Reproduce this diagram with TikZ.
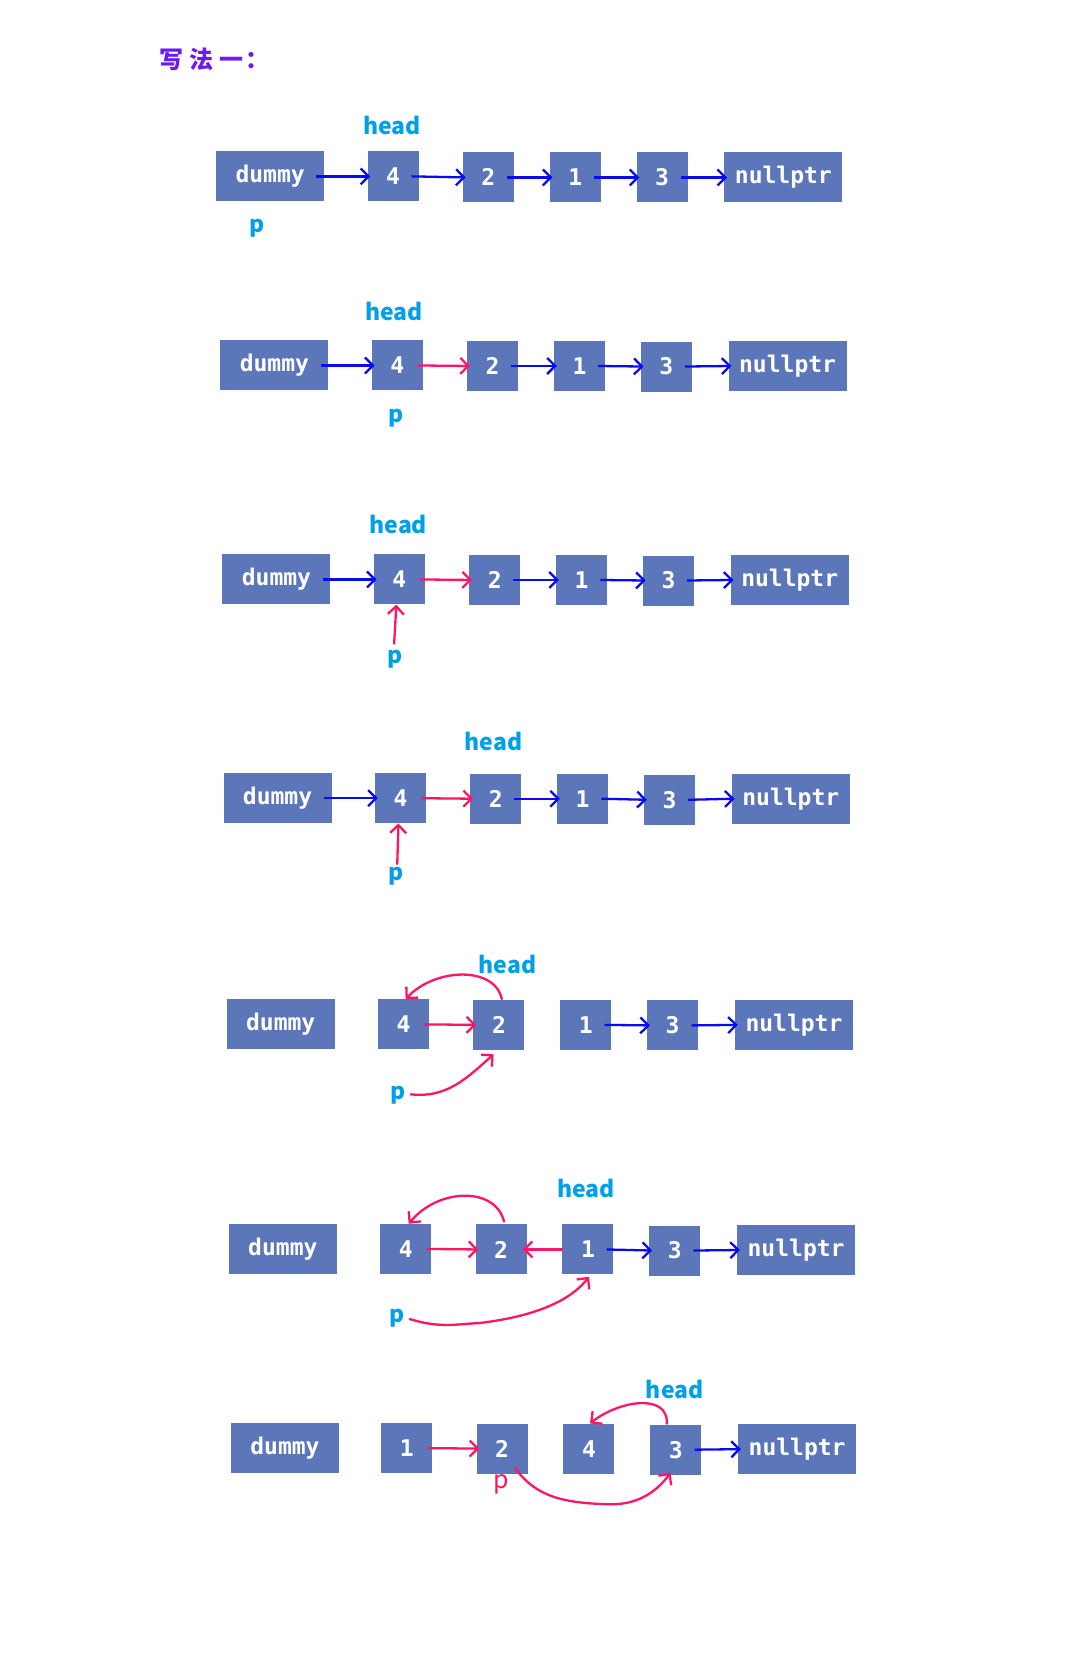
\documentclass[tikz,border=0pt]{standalone}
\usepackage{fontspec}
\usetikzlibrary{arrows.meta,calc}
\newfontfamily\boxfont{DejaVu Sans Mono}
\newfontfamily\cjk{Noto Sans CJK SC}
\definecolor{boxc}{HTML}{5B77BA}
\definecolor{blu}{HTML}{0A0AF0}
\definecolor{rd}{HTML}{FF1466}
\definecolor{cy}{HTML}{00A0E9}
\definecolor{vio}{HTML}{6B1CF5}
\begin{document}
\begin{tikzpicture}[x=1.0595pt,y=-1.0595pt,
  box/.style={fill=boxc,text=white,font=\boxfont\bfseries\fontsize{23}{23}\selectfont,minimum height=50pt,inner sep=0pt},
  sm/.style={box,minimum width=51pt},
  dm/.style={box,minimum width=108pt},
  nl/.style={box,minimum width=118pt},
  lbl/.style={text=cy,font=\cjk\bfseries\fontsize{23}{23}\selectfont,inner sep=1pt},
  rlbl/.style={lbl,text=rd,font=\cjk\fontsize{25}{25}\selectfont},
  ba/.style={draw=blu,line width=2.3pt,-{Straight Barb[length=8pt,width=16pt]}},
  ra/.style={draw=rd,line width=2.3pt,-{Straight Barb[length=8pt,width=16pt]}}]
\useasboundingbox (0,0) rectangle (1025,1568);
\node[anchor=west,text=vio,font=\cjk\bfseries\fontsize{24}{24}\selectfont,inner sep=0pt] (title) at (150,56) {写\hspace{6pt}法\hspace{6pt}一\hspace{2pt}：};

% Row 1
\node[dm] (r1dm) at (255,166.5) {dummy};
\node[sm] (r1v4) at (371,166.5) {4};
\node[sm] (r1v2) at (461,167.5) {2};
\node[sm] (r1v1) at (543,167.5) {1};
\node[sm] (r1v3) at (625,167.5) {3};
\node[nl] (r1nl) at (739.5,167.5) {nullptr};
\node[lbl] (r1hd) at (370,118) {head};
\node[lbl] (r1p) at (243,215) {p};
\draw[ba] ([xshift=-8pt]r1dm.east) -- ([xshift=3pt]r1v4.west);
\draw[ba] ([xshift=-7pt]r1v4.east) -- ([xshift=3pt]r1v2.west);
\draw[ba] ([xshift=-7pt]r1v2.east) -- ([xshift=3pt]r1v1.west);
\draw[ba] ([xshift=-7pt]r1v1.east) -- ([xshift=3pt]r1v3.west);
\draw[ba] ([xshift=-7pt]r1v3.east) -- ([xshift=3pt]r1nl.west);

% Row 2
\node[dm] (r2dm) at (259,345) {dummy};
\node[sm] (r2v4) at (375,345) {4};
\node[sm] (r2v2) at (465,345.5) {2};
\node[sm] (r2v1) at (547,345.5) {1};
\node[sm] (r2v3) at (629,346) {3};
\node[nl] (r2nl) at (743.5,345.5) {nullptr};
\node[lbl] (r2hd) at (372,294) {head};
\node[lbl] (r2p) at (374,395) {p};
\draw[ba] ([xshift=-8pt]r2dm.east) -- ([xshift=3pt]r2v4.west);
\draw[ra] ([xshift=-5pt]r2v4.east) -- ([xshift=3pt]r2v2.west);
\draw[ba] ([xshift=-7pt]r2v2.east) -- ([xshift=3pt]r2v1.west);
\draw[ba] ([xshift=-7pt]r2v1.east) -- ([xshift=3pt]r2v3.west);
\draw[ba] ([xshift=-7pt]r2v3.east) -- ([xshift=3pt]r2nl.west);

% Row 3
\node[dm] (r3dm) at (261,547) {dummy};
\node[sm] (r3v4) at (377,547) {4};
\node[sm] (r3v2) at (467,547.5) {2};
\node[sm] (r3v1) at (549,547.5) {1};
\node[sm] (r3v3) at (631,548) {3};
\node[nl] (r3nl) at (745.5,547.5) {nullptr};
\node[lbl] (r3hd) at (376,495) {head};
\node[lbl] (r3p) at (373,622) {p};
\draw[ba] ([xshift=-8pt]r3dm.east) -- ([xshift=3pt]r3v4.west);
\draw[ra] ([xshift=-5pt]r3v4.east) -- ([xshift=3pt]r3v2.west);
\draw[ba] ([xshift=-7pt]r3v2.east) -- ([xshift=3pt]r3v1.west);
\draw[ba] ([xshift=-7pt]r3v1.east) -- ([xshift=3pt]r3v3.west);
\draw[ba] ([xshift=-7pt]r3v3.east) -- ([xshift=3pt]r3nl.west);
\draw[ra] ([shift={(-1,-4)}]r3p.north) -- ([xshift=-3pt]r3v4.south);

% Row 4
\node[dm] (r4dm) at (262,753.5) {dummy};
\node[sm] (r4v4) at (378,753.5) {4};
\node[sm] (r4v2) at (468,754) {2};
\node[sm] (r4v1) at (550,754) {1};
\node[sm] (r4v3) at (632,755) {3};
\node[nl] (r4nl) at (746.5,754) {nullptr};
\node[lbl] (r4hd) at (466,700) {head};
\node[lbl] (r4p) at (374,827) {p};
\draw[ba] ([xshift=-8pt]r4dm.east) -- ([xshift=3pt]r4v4.west);
\draw[ra] ([xshift=-5pt]r4v4.east) -- ([xshift=3pt]r4v2.west);
\draw[ba] ([xshift=-7pt]r4v2.east) -- ([xshift=3pt]r4v1.west);
\draw[ba] ([xshift=-7pt]r4v1.east) -- ([xshift=3pt]r4v3.west);
\draw[ba] ([xshift=-7pt]r4v3.east) -- ([xshift=3pt]r4nl.west);
\draw[ra] ([shift={(1,-1)}]r4p.north) -- ([xshift=-2pt]r4v4.south);

% Row 5
\node[dm] (r5dm) at (265,967) {dummy};
\node[sm] (r5v4) at (381,967) {4};
\node[sm] (r5v2) at (471,967.5) {2};
\node[sm] (r5v1) at (553,967.5) {1};
\node[sm] (r5v3) at (635,968) {3};
\node[nl] (r5nl) at (749.5,967.5) {nullptr};
\node[lbl] (r5hd) at (479,910) {head};
\node[lbl] (r5p) at (376,1034) {p};
\draw[ra] ([xshift=-5pt]r5v4.east) -- ([xshift=3pt]r5v2.west);
\draw[ba] ([xshift=-7pt]r5v1.east) -- ([xshift=3pt]r5v3.west);
\draw[ba] ([xshift=-7pt]r5v3.east) -- ([xshift=3pt]r5nl.west);
\draw[ra] ([xshift=3pt]r5v2.north) .. controls +(-6,-32) and +(28,-30) .. ([xshift=2pt]r5v4.north);
\draw[ra] ([shift={(3,-1)}]r5p.east) .. controls +(35,4) and +(-25,22) .. ([shift={(-5,4)}]r5v2.south);

% Row 6
\node[dm] (r6dm) at (267,1179) {dummy};
\node[sm] (r6v4) at (383,1179) {4};
\node[sm] (r6v2) at (473,1179.5) {2};
\node[sm] (r6v1) at (555,1179.5) {1};
\node[sm] (r6v3) at (637,1180.5) {3};
\node[nl] (r6nl) at (751.5,1180) {nullptr};
\node[lbl] (r6hd) at (553,1122) {head};
\node[lbl] (r6p) at (375,1244) {p};
\draw[ra] ([xshift=-5pt]r6v4.east) -- ([xshift=3pt]r6v2.west);
\draw[ra] ([xshift=1pt]r6v1.west) -- ([xshift=-4pt]r6v2.east);
\draw[ba] ([xshift=-7pt]r6v1.east) -- ([xshift=3pt]r6v3.west);
\draw[ba] ([xshift=-7pt]r6v3.east) -- ([xshift=3pt]r6nl.west);
\draw[ra] ([shift={(3,-2)}]r6v2.north) .. controls +(-8,-34) and +(28,-34) .. ([xshift=3pt]r6v4.north);
\draw[ra] ([shift={(3,1)}]r6p.east) .. controls (415,1254) and (430,1250) .. (452,1249)
  .. controls (495,1244) and (535,1232) .. ([shift={(1,2)}]r6v1.south);

% Row 7
\node[dm] (r7dm) at (269,1367) {dummy};
\node[sm] (r7v1) at (384,1367) {1};
\node[sm] (r7v2) at (474,1367.5) {2};
\node[sm] (r7v4) at (556,1367.5) {4};
\node[sm] (r7v3) at (638,1368.5) {3};
\node[nl] (r7nl) at (752.5,1368) {nullptr};
\node[lbl] (r7hd) at (637,1312) {head};
\node[rlbl] (r7p) at (473,1401) {p};
\draw[ra] ([xshift=-5pt]r7v1.east) -- ([xshift=3pt]r7v2.west);
\draw[ba] ([xshift=-7pt]r7v3.east) -- ([xshift=3pt]r7nl.west);
\draw[ra] ([xshift=-9pt]r7v3.north) .. controls +(2,-30) and +(28,-22) .. ([xshift=1pt]r7v4.north);
\draw[ra] ([shift={(12,18)}]r7v2.center) .. controls (505,1412) and (530,1419) .. (575,1420)
  .. controls (605,1421) and (622,1405) .. ([shift={(-5,-2)}]r7v3.south);
\end{tikzpicture}
\end{document}
